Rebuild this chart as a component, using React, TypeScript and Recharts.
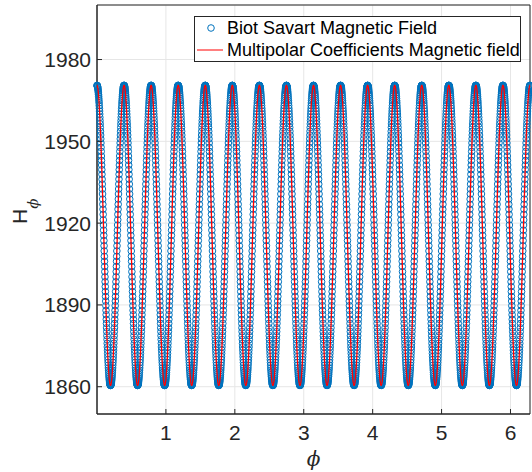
import React from 'react';
import {
  ComposedChart,
  Scatter,
  Line,
  XAxis,
  YAxis,
  CartesianGrid,
  Legend,
  ReferenceArea,
  Label,
} from 'recharts';

const HALF_PERIOD_H = [
  1970.5, 1970.5, 1970.4, 1970.2, 1970.0, 1969.7, 1969.3, 1968.9, 1968.4, 1967.8,
  1967.2, 1966.5, 1965.7, 1964.9, 1964.1, 1963.1, 1962.1, 1961.1, 1960.0, 1958.8,
  1957.6, 1956.4, 1955.1, 1953.7, 1952.3, 1950.9, 1949.4, 1947.8, 1946.3, 1944.6,
  1943.0, 1941.3, 1939.6, 1937.9, 1936.1, 1934.3, 1932.5, 1930.7, 1928.8, 1926.9,
  1925.1, 1923.2, 1921.2, 1919.3, 1917.4, 1915.5, 1913.6, 1911.7, 1909.8, 1907.8,
  1906.0, 1904.1, 1902.2, 1900.3, 1898.5, 1896.7, 1894.9, 1893.1, 1891.4, 1889.7,
  1888.0, 1886.4, 1884.7, 1883.2, 1881.6, 1880.2, 1878.7, 1877.3, 1875.9, 1874.6,
  1873.4, 1872.2, 1871.0, 1869.9, 1868.9, 1867.9, 1866.9, 1866.1, 1865.3, 1864.5,
  1863.8, 1863.2, 1862.6, 1862.1, 1861.7, 1861.3, 1861.0, 1860.8, 1860.6, 1860.5,
  1860.5,
];
const PERIODS = 16;

const X_TICKS = [1, 2, 3, 4, 5, 6];
const Y_TICKS = [1860, 1890, 1920, 1950, 1980];
const X_MAX = 2 * Math.PI;
const Y_MIN = 1850;
const Y_MAX = 2000;

const SERIES_NAMES = ['Biot Savart Magnetic Field', 'Multipolar Coefficients Magnetic field'];

const FONT = '"Liberation Sans", Arial, Helvetica, sans-serif';
const AXIS = '#262626';
const BLUE = '#0072BD';
const RED = '#ff0000';

// one full period = falling half + rising half, repeated around the circle
const onePeriod = [...HALF_PERIOD_H, ...HALF_PERIOD_H.slice(1, -1).reverse()];
const total = onePeriod.length * PERIODS;
const data: { phi: number; h: number }[] = [];
for (let i = 0; i <= total; i++) {
  data.push({ phi: (i / total) * X_MAX, h: onePeriod[i % onePeriod.length] });
}

const Marker = (props: any) => (
  <circle cx={props.cx} cy={props.cy} r={3.3} fill="none" stroke={BLUE} strokeWidth={1} />
);

const YTick = (props: any) => {
  const { x, y, payload } = props;
  return (
    <g>
      <line x1={x + 6} x2={x + 11} y1={y} y2={y} stroke={AXIS} strokeWidth={1} />
      <text x={x} y={y} dy="0.355em" textAnchor="end" fill={AXIS} fontSize={21} fontFamily={FONT}>
        {payload.value}
      </text>
    </g>
  );
};

const XTick = (props: any) => {
  const { x, y, payload } = props;
  return (
    <g>
      <line x1={x} x2={x} y1={y - 11} y2={y - 16} stroke={AXIS} strokeWidth={1} />
      <text x={x} y={y} dy="0.71em" textAnchor="middle" fill={AXIS} fontSize={21} fontFamily={FONT}>
        {payload.value}
      </text>
    </g>
  );
};

const XTitle = (props: any) => {
  const vb = props.viewBox;
  return (
    <text
      x={vb.x + vb.width / 2}
      y={vb.y + 52}
      textAnchor="middle"
      fill={AXIS}
      fontSize={20}
      fontStyle="italic"
      fontWeight={300}
      fontFamily='"DejaVu Serif", "Liberation Serif", serif'
    >
      ϕ
    </text>
  );
};

const YTitle = () => (
  <text
    x={27}
    y={224}
    transform="rotate(-90, 27, 224)"
    fill={AXIS}
    fontSize={21}
    fontFamily={FONT}
  >
    H
    <tspan
      dy={11}
      fontSize={15}
      fontStyle="italic"
      fontFamily='"DejaVu Serif", "Liberation Serif", serif'
    >
      ϕ
    </tspan>
  </text>
);

const LegendBox = (props: any) => {
  const items = props.payload && props.payload.length ? props.payload : [];
  return (
    <div
      style={{
        width: 327,
        height: 46,
        boxSizing: 'border-box',
        border: `1px solid ${AXIS}`,
        background: '#fff',
        position: 'relative',
        fontFamily: FONT,
        fontSize: 18,
        color: '#000',
      }}
    >
      {items.map((entry: any, i: number) => (
        <div key={i} style={{ position: 'absolute', left: 0, top: i * 22, height: 22, width: 325 }}>
          <svg width={32} height={22} style={{ position: 'absolute', left: 0, top: 0 }}>
            {entry.type === 'line' ? (
              <line x1={2} x2={28} y1={11} y2={11} stroke={RED} strokeWidth={1} />
            ) : (
              <circle cx={16} cy={11} r={3.3} fill="none" stroke={BLUE} strokeWidth={1} />
            )}
          </svg>
          <span style={{ position: 'absolute', left: 32, top: 0, lineHeight: '22px', whiteSpace: 'nowrap' }}>
            {entry.value}
          </span>
        </div>
      ))}
    </div>
  );
};

export default function App() {
  return (
    <div style={{ position: 'absolute', left: 0, top: 0, width: 532, height: 472, background: '#fff' }}>
      <ComposedChart width={532} height={472} margin={{ top: 5, right: 2, bottom: 0, left: 0 }}>
        <CartesianGrid stroke="#e6e6e6" strokeWidth={1} />
        <XAxis
          type="number"
          dataKey="phi"
          domain={[0, X_MAX]}
          ticks={X_TICKS}
          interval={0}
          height={58}
          tickSize={0}
          tickMargin={11}
          tickLine={false}
          axisLine={{ stroke: AXIS }}
          tick={XTick}
        >
          <Label content={XTitle} />
        </XAxis>
        <YAxis
          type="number"
          dataKey="h"
          domain={[Y_MIN, Y_MAX]}
          ticks={Y_TICKS}
          interval={0}
          width={97}
          tickSize={0}
          tickMargin={6}
          tickLine={false}
          axisLine={{ stroke: AXIS }}
          tick={YTick}
        >
          <Label content={YTitle} />
        </YAxis>
        <ReferenceArea x1={0} x2={X_MAX} y1={Y_MIN} y2={Y_MAX} fill="none" fillOpacity={0} stroke={AXIS} strokeWidth={1} />
        <Scatter
          name={SERIES_NAMES[0]}
          data={data}
          dataKey="h"
          shape={Marker}
          legendType="circle"
          zIndex={600}
          isAnimationActive={false}
        />
        <Line
          name={SERIES_NAMES[1]}
          data={data}
          dataKey="h"
          type="linear"
          stroke={RED}
          strokeWidth={1.3}
          dot={false}
          activeDot={false}
          legendType="line"
          zIndex={700}
          isAnimationActive={false}
        />
        <Legend
          layout="vertical"
          align="center"
          verticalAlign="middle"
          content={LegendBox}
          wrapperStyle={{ position: 'absolute', left: 194, top: 16, width: 327, height: 46 }}
        />
      </ComposedChart>
    </div>
  );
}
